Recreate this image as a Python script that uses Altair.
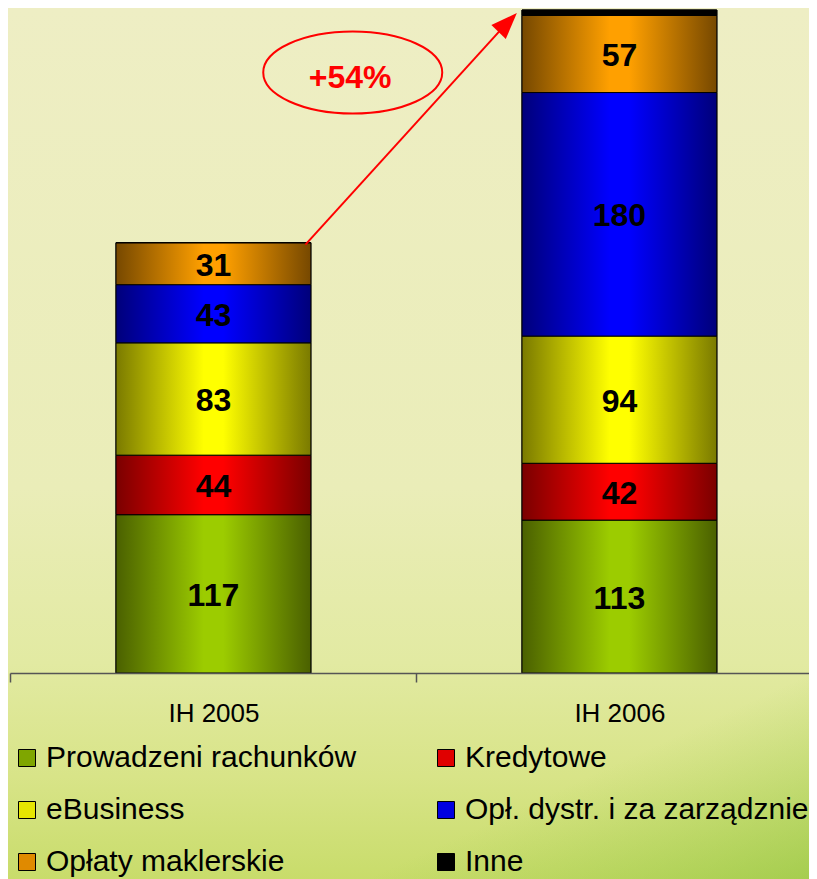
import altair as alt
import pandas as pd

# ---------------- data ----------------
periods = ["IH 2005", "IH 2006"]
series = [
    "Prowadzeni rachunków",
    "Kredytowe",
    "eBusiness",
    "Opł. dystr. i za zarządznie",
    "Opłaty maklerskie",
    "Inne",
]
values_2005 = [117, 44, 83, 43, 31, 0]
values_2006 = [113, 42, 94, 180, 57, 4]

# legend order (filled column by column, as in the original slide)
legend_order = [
    "Prowadzeni rachunków",
    "eBusiness",
    "Opłaty maklerskie",
    "Kredytowe",
    "Opł. dystr. i za zarządznie",
    "Inne",
]

legend_colors = {"Prowadzeni rachunków": "#7fa600", "Kredytowe": "#e00000", "eBusiness": "#e6e600",
                 "Opł. dystr. i za zarządznie": "#0000e0", "Opłaty maklerskie": "#e08a00", "Inne": "#000000"}
edge_colors = ["#4a6000", "#7a0000", "#7a7a00", "#00007a", "#764800", "#000000"]
center_colors = ["#9ccc00", "#ff0000", "#ffff00", "#0000ff", "#ffa000", "#000000"]

growth_label = ["+54%"]
arrow_from = [("IH 2005", 316.6)]
arrow_to = [("IH 2006", 479.2)]
arrow_head = [("IH 2006", 480.7)]
ellipse_at = [("IH 2005", 443.8)]
growth_text_at = [("IH 2005", 441.0)]

rows = []
for i, s in enumerate(series):
    rows.append({"period": periods[0], "series": s, "order": i, "value": values_2005[i]})
    rows.append({"period": periods[1], "series": s, "order": i, "value": values_2006[i]})
df = pd.DataFrame(rows)

FONT = "Liberation Sans"
W, H = 799, 663
STEP = 406

x_scale = alt.Scale(domain=periods, paddingInner=0.52, paddingOuter=0.244, align=0.535)
y_scale = alt.Scale(domain=[0, 490], nice=False, zero=True)

x_axis = alt.Axis(
    title=None, labelAngle=0, labelFontSize=26, labelFont=FONT, labelColor="black",
    labelPadding=18, tickSize=9, tickColor="#555555", tickWidth=1.5,
    domainColor="#555555", domainWidth=1.5, grid=False, zindex=1,
    tickOffset=-STEP / 2, labelOffset=STEP / 2,
)


def x_enc(field="period"):
    return alt.X(f"{field}:N", scale=x_scale, axis=x_axis, title=None)


def y_enc(field):
    return alt.Y(f"{field}:Q", scale=y_scale, axis=None)


# ---------------- background ----------------
bg_grad = alt.Gradient(
    gradient="linear", x1=0, y1=0, x2=0, y2=1,
    stops=[
        alt.GradientStop(offset=0.0, color="#eeeec4"),
        alt.GradientStop(offset=0.55, color="#eaedb8"),
        alt.GradientStop(offset=0.75, color="#e2eaa2"),
        alt.GradientStop(offset=0.88, color="#d8e488"),
        alt.GradientStop(offset=1.0, color="#c8dc6a"),
    ],
)
bg = alt.Chart(pd.DataFrame({"bg": [0]})).mark_rect(fill=bg_grad, strokeWidth=0).encode(
    x=alt.value(-2), x2=alt.value(801), y=alt.value(-2), y2=alt.value(871)
)
bg2_grad = alt.Gradient(
    gradient="linear", x1=0, y1=0, x2=1, y2=1,
    stops=[
        alt.GradientStop(offset=0.0, color="rgba(140,196,60,0)"),
        alt.GradientStop(offset=0.72, color="rgba(140,196,60,0)"),
        alt.GradientStop(offset=1.0, color="rgba(130,190,50,0.5)"),
    ],
)
bg2 = alt.Chart(pd.DataFrame({"bg": [0]})).mark_rect(fill=bg2_grad, strokeWidth=0).encode(
    x=alt.value(-2), x2=alt.value(801), y=alt.value(500), y2=alt.value(871)
)

stacked = alt.Chart(df).transform_stack(
    stack="value", groupby=["period"], as_=["y0", "y1"],
    sort=[alt.SortField("order", order="ascending")],
)

# solid layer (provides legend)
legend_layer = stacked.mark_bar(stroke="black", strokeWidth=1).encode(
    x=x_enc(),
    y=y_enc("y0"),
    y2="y1:Q",
    color=alt.Color(
        "series:N",
        scale=alt.Scale(domain=legend_order, range=[legend_colors[s] for s in legend_order]),
        sort=legend_order,
        legend=alt.Legend(
            orient="none", legendX=2, legendY=733, columns=2, title=None,
            labelFontSize=30, labelFont=FONT, labelColor="black",
            symbolType="square", symbolSize=289, symbolStrokeColor="black",
            symbolStrokeWidth=1, symbolOpacity=1, labelOffset=4,
            columnPadding=74, rowPadding=22, padding=0, labelLimit=700, zindex=1,
        ),
    ),
)

grad_layers = []
for i, s in enumerate(series):
    g = alt.Gradient(
        gradient="linear", x1=0, y1=0, x2=1, y2=0,
        stops=[
            alt.GradientStop(offset=0.0, color=edge_colors[i]),
            alt.GradientStop(offset=0.45, color=center_colors[i]),
            alt.GradientStop(offset=0.55, color=center_colors[i]),
            alt.GradientStop(offset=1.0, color=edge_colors[i]),
        ],
    )
    grad_layers.append(
        stacked.transform_filter(alt.datum.series == s)
        .mark_bar(fill=g, stroke="black", strokeWidth=1)
        .encode(x=x_enc(), y=y_enc("y0"), y2="y1:Q")
    )

labels = (
    stacked.transform_filter(alt.datum.value >= 10)
    .transform_calculate(mid="(datum.y0 + datum.y1) / 2")
    .mark_text(font=FONT, fontSize=32, fontWeight="bold", color="black", baseline="middle", dy=2)
    .encode(x=x_enc(), y=y_enc("mid"), text="value:Q")
)

# ---------------- annotation ----------------
arrow_df = pd.DataFrame({
    "xa": [arrow_from[0][0]], "ya": [arrow_from[0][1]],
    "xb": [arrow_to[0][0]], "yb": [arrow_to[0][1]],
})
arrow_line = alt.Chart(arrow_df).mark_rule(
    color="#ff0000", strokeWidth=2, xOffset=92, x2Offset=-114
).encode(x=x_enc("xa"), x2="xb:N", y=y_enc("ya"), y2="yb:Q")

head_df = pd.DataFrame({"xh": [arrow_head[0][0]], "yh": [arrow_head[0][1]]})
head_path = "M0,-1 L0.76,1 L-0.76,1 Z"
arrow_tip = alt.Chart(head_df).mark_point(
    shape=head_path, filled=True, fill="#ff0000", strokeWidth=0, size=692,
    angle=44, xOffset=-111.7, opacity=1,
).encode(x=x_enc("xh"), y=y_enc("yh"))

ell_df = pd.DataFrame({"xe": [ellipse_at[0][0]], "ye": [ellipse_at[0][1]]})
ellipse_path = (
    "M1,0 C1,0.253 0.552,0.458 0,0.458 C-0.552,0.458 -1,0.253 -1,0 "
    "C-1,-0.253 -0.552,-0.458 0,-0.458 C0.552,-0.458 1,-0.253 1,0 Z"
)
ellipse = alt.Chart(ell_df).mark_point(
    shape=ellipse_path, filled=False, stroke="#ff0000", strokeWidth=2,
    size=32041, xOffset=139.3, opacity=1,
).encode(x=x_enc("xe"), y=y_enc("ye"))

pct_df = pd.DataFrame({"xt": [growth_text_at[0][0]], "yt": [growth_text_at[0][1]], "t": growth_label})
pct_text = alt.Chart(pct_df).mark_text(
    font=FONT, fontSize=32, fontWeight="bold", color="#ff0000",
    baseline="middle", dy=2, xOffset=136.7,
).encode(x=x_enc("xt"), y=y_enc("yt"), text="t:N")

chart = alt.layer(
    bg, bg2, legend_layer, *grad_layers, labels, arrow_line, arrow_tip, ellipse, pct_text
).properties(
    width=W, height=H,
    autosize=alt.AutoSizeParams(type="none"),
    padding={"left": 2, "top": 2, "right": 0, "bottom": 206},
).configure_view(stroke=None).configure(background="#ecedc0")

chart.save("out.html", embed_options={"renderer": "svg", "actions": False})
